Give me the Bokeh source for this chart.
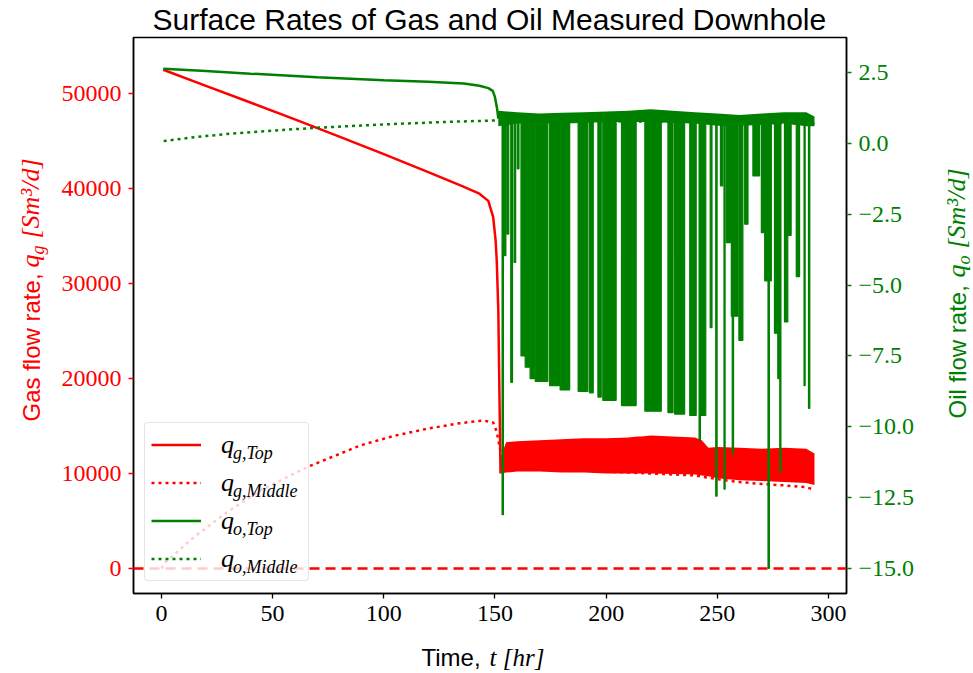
from bokeh.plotting import figure
from bokeh.layouts import column, row
from bokeh.models import (Range1d, LinearAxis, FixedTicker, Span, Legend, LegendItem,
                          Label, ColumnDataSource)
from bokeh.embed import file_html
from bokeh.resources import INLINE

RED = "#ff0000"
GREEN = "#008000"

# ---------------- data ----------------
# gas rate at the top, smooth decline before slugging starts [Sm3/d]
t_gas_top = [0.8, 20, 40, 60, 80, 100, 120, 135, 143, 147, 149.2, 150.3, 150.8, 151.5, 152.0, 152.5, 153.0]
gas_top = [52500, 50800, 49050, 47270, 45460, 43610, 41720, 40280, 39450, 38700, 36980,
           34500, 32400, 27200, 18500, 10000, 11500]

# gas rate at the top during slugging: upper / lower envelope of the oscillation
t_gas_band = [153.0, 155, 160, 170, 180, 190, 200, 210, 214, 216, 220, 230, 240, 243, 246,
              250, 260, 270, 280, 290, 293.7]
gas_band_hi = [12000, 13300, 13400, 13500, 13600, 13700, 13700, 13800, 13900, 13900, 14000,
               13900, 13800, 13500, 12700, 12800, 12700, 12600, 12700, 12600, 12100]
gas_band_lo = [10000, 10100, 10200, 10200, 10100, 10100, 10000, 10000, 10000, 10000, 10000,
               9950, 9900, 9800, 9700, 9500, 9300, 9200, 9100, 9000, 8800]

# gas rate in the middle of the well
t_gas_mid = [0, 1.8, 14.5, 29.5, 44.5, 65.4, 89.4, 104.3, 119.3, 134.3, 144.7, 149.2, 150.8,
             152.3, 154, 160, 180, 200, 220, 240, 250, 260, 270, 280, 290, 293.7]
gas_mid = [0, 660, 3290, 5930, 8210, 10660, 12950, 13950, 14700, 15300, 15580, 15370, 14400,
           12500, 11000, 10600, 10400, 10200, 10000, 9800, 9400, 9100, 8900, 8750, 8550, 8300]

# oil rate at the top before slugging
t_oil_top = [0.8, 20, 40, 70, 100, 120, 136, 143, 147, 149, 150, 151, 151.5]
oil_top = [2.63, 2.55, 2.46, 2.33, 2.23, 2.17, 2.11, 2.03, 1.95, 1.85, 1.63, 1.2, 0.87]

# oil rate at the top during slugging: plateau band
t_oil_band = [151.5, 160, 170, 180, 190, 200, 210, 220, 230, 240, 250, 260, 270, 280, 290, 293.7]
oil_band_hi = [1.15, 1.1, 1.05, 1.08, 1.1, 1.12, 1.15, 1.2, 1.15, 1.1, 1.05, 1.0, 1.05, 1.1, 1.1, 0.95]
oil_band_lo = [0.6, 0.7, 0.7, 0.7, 0.72, 0.75, 0.75, 0.75, 0.72, 0.7, 0.62, 0.62, 0.65, 0.7, 0.6, 0.6]

# oil rate at the top during slugging: bursts of drops (start, end, lowest value)
dip_start = [153.2, 154.3, 155.3, 157.1, 158.6, 160.0, 161.7, 163.6, 165.8, 168.1, 174.6, 179.3,
             187.4, 192.5, 196.3, 198.5, 206.9, 217.4, 227.8, 230.8, 233.1, 237.6, 241.8, 242.5,
             246.8, 249.3, 251.4, 253.0, 254.0, 256.3, 256.7, 259.7, 262.3, 266.0, 269.8, 271.3,
             272.8, 275.7, 277.2, 278.1, 280.2, 281.7, 285.5, 289.0, 291.0]
dip_end = [153.8, 154.9, 156.2, 157.9, 159.3, 160.8, 163.6, 165.6, 167.9, 173.8, 179.0, 183.6,
           191.8, 194.2, 197.8, 204.5, 213.5, 224.8, 230.1, 233.0, 235.3, 240.5, 242.4, 244.8,
           247.6, 249.9, 252.5, 253.5, 255.9, 259.3, 257.3, 261.5, 263.8, 269.0, 271.3, 274.3,
           273.4, 277.2, 278.0, 278.6, 281.7, 283.2, 287.0, 289.5, 291.6]
dip_depth = [-13.1, -3.96, -3.2, -8.43, -4.2, -0.9, -7.5, -7.9, -8.3, -8.4, -8.55, -8.7,
             -8.75, -8.8, -8.95, -9.07, -9.25, -9.45, -9.5, -9.55, -9.55, -9.6, -10.48, -9.6,
             -6.5, -12.45, -1.5, -12.2, -3.5, -6.1, -10.95, -6.95, -2.85, -1.15, -3.15, -4.85,
             -15.0, -6.7, -8.3, -11.6, -6.3, -3.25, -4.7, -8.55, -9.35]

# oil rate in the middle of the well
t_oil_mid = [1, 15, 31, 50, 70, 90, 106, 130, 150.8, 160, 200, 250, 293.7]
oil_mid = [0.08, 0.22, 0.34, 0.45, 0.55, 0.63, 0.69, 0.76, 0.81, 0.8, 0.78, 0.74, 0.7]

x_ticks = [0, 50, 100, 150, 200, 250, 300]
gas_ticks = [0, 10000, 20000, 30000, 40000, 50000]
oil_ticks = [2.5, 0.0, -2.5, -5.0, -7.5, -10.0, -12.5, -15.0]
oil_tick_text = ["2.5", "0.0", "\u22122.5", "\u22125.0", "\u22127.5", "\u221210.0",
                 "\u221212.5", "\u221215.0"]
legend_subs = ["g,Top", "g,Middle", "o,Top", "o,Middle"]

SERIF = "Liberation Serif"
SANS = "Liberation Sans"
TICK_SIZE = "24px"
ROT = 1.5707963
MID = 0.34  # distance from the alphabetic baseline to the middle of the text box, in em


def put(fig, text, bx, by, size, font, style="normal", color="black", rotated=False):
    """Place a text piece by its baseline start (bx, by), in the figure's screen units."""
    if rotated:
        ax, ay, ang = bx - MID * size, by, ROT
    else:
        ax, ay, ang = bx, by + MID * size, 0.0
    fig.add_layout(Label(x=ax, y=ay, x_units="screen", y_units="screen", text=text,
                         text_font=font, text_font_size=f"{size}px", text_font_style=style,
                         text_color=color, angle=ang, text_align="left",
                         text_baseline="middle"))


def strip(w, h):
    f = figure(width=w, height=h, output_backend="svg", toolbar_location=None,
               x_range=Range1d(0, w), y_range=Range1d(0, h), min_border=0,
               x_axis_type=None, y_axis_type=None, title=None)
    f.outline_line_color = None
    f.grid.visible = False
    f.background_fill_color = "white"
    f.border_fill_color = "white"
    return f


# ---------------- main plot ----------------
p = figure(width=859, height=602, output_backend="svg", toolbar_location=None, title=None,
           x_range=Range1d(-12.57, 308.1), y_range=Range1d(-2632, 55895),
           min_border_left=75, min_border_right=70, min_border_top=1, min_border_bottom=45)
p.extra_y_ranges = {"oil": Range1d(-15.882, 3.735)}
p.xgrid.visible = False
p.ygrid.visible = False
p.outline_line_color = "black"
p.outline_line_width = 1.5
p.background_fill_color = "white"
p.border_fill_color = "white"

xa = p.xaxis[0]
xa.ticker = FixedTicker(ticks=x_ticks)
ya = p.yaxis[0]
ya.ticker = FixedTicker(ticks=gas_ticks)
ya.formatter.use_scientific = False

oil_axis = LinearAxis(y_range_name="oil", ticker=FixedTicker(ticks=oil_ticks),
                      major_label_overrides=dict(zip(oil_ticks, oil_tick_text)))
p.add_layout(oil_axis, "right")

for ax, col in ((xa, "black"), (ya, RED), (oil_axis, GREEN)):
    ax.axis_line_color = "black"
    ax.axis_line_width = 1.5
    ax.major_tick_line_color = col
    ax.major_tick_line_width = 1.3
    ax.major_tick_out = 5
    ax.major_tick_in = 0
    ax.minor_tick_line_color = None
    ax.major_label_text_color = col
    ax.major_label_text_font = SERIF
    ax.major_label_text_font_size = TICK_SIZE
    ax.major_label_standoff = 7
    ax.axis_label = None

# gas curves (left axis)
p.varea(x=t_gas_band, y1=gas_band_lo, y2=gas_band_hi, fill_color=RED)
r_gas_top = p.line(t_gas_top, gas_top, line_color=RED, line_width=2.5)
r_gas_mid = p.line(t_gas_mid, gas_mid, line_color=RED, line_width=2.5,
                   line_dash="3 4", line_cap="butt")

zero_line = Span(location=0, dimension="width", line_color=RED, line_width=2.5,
                 line_dash="10 6")
p.add_layout(zero_line)

# oil curves (right axis)
p.varea(x=t_oil_band, y1=oil_band_lo, y2=oil_band_hi, fill_color=GREEN, y_range_name="oil")
dips = ColumnDataSource(dict(left=dip_start, right=dip_end, bottom=dip_depth))
p.quad(left="left", right="right", bottom="bottom", top=0.85, source=dips,
       fill_color=GREEN, line_color=GREEN, line_width=1.2, y_range_name="oil")
r_oil_top = p.line(t_oil_top, oil_top, line_color=GREEN, line_width=2.5, y_range_name="oil")
r_oil_mid = p.line(t_oil_mid, oil_mid, line_color=GREEN, line_width=2.5,
                   line_dash="3 4", line_cap="butt", y_range_name="oil")

# legend: swatches and the main symbol "q"
legend_main = Legend(items=[LegendItem(label="q", renderers=[r]) for r in
                            (r_gas_top, r_gas_mid, r_oil_top, r_oil_mid)],
                     location=(11, 12), margin=0, padding=6, spacing=7,
                     glyph_width=50, glyph_height=31, label_height=31, label_width=81,
                     label_standoff=20, label_text_font=SERIF, label_text_font_style="italic",
                     label_text_font_size="26px", label_text_color="black",
                     border_line_color="#cccccc", border_line_width=1.5,
                     background_fill_color="white", background_fill_alpha=0.8)
if "border_radius" in Legend.properties():
    legend_main.border_radius = 4
p.add_layout(legend_main)

# second, see-through legend carrying the subscripts
blank = p.line(x=[], y=[], line_alpha=0)
legend_sub = Legend(items=[LegendItem(label=s, renderers=[blank]) for s in legend_subs],
                    location=(99, 10), margin=0, padding=0, spacing=7,
                    glyph_width=1, glyph_height=31, label_height=31, label_width=10,
                    label_standoff=0, label_text_font=SERIF, label_text_font_style="italic",
                    label_text_font_size="18px", label_text_color="black",
                    border_line_color=None, background_fill_alpha=0)
p.add_layout(legend_sub)

# ---------------- title and axis labels ----------------
top = strip(973, 36)
put(top, "Surface Rates of Gas and Oil Measured Downhole", 152, 6.8, 30, SANS)

bottom = strip(973, 35)
put(bottom, "Time, ", 421, 8, 24, SANS)
put(bottom, "t [hr]", 489, 8, 25, SERIF, "italic")

left = strip(58, 602)
put(left, "Gas flow rate, ", 39, 172, 24, SANS, color=RED, rotated=True)
put(left, "q", 39, 326, 26, SERIF, "italic", RED, True)
put(left, "g", 44, 339, 18, SERIF, "italic", RED, True)
put(left, "[Sm\u00b3/d]", 39, 355, 26, SERIF, "italic", RED, True)

right = strip(56, 602)
put(right, "Oil flow rate, ", 48, 175, 24, SANS, color=GREEN, rotated=True)
put(right, "q", 48, 316, 26, SERIF, "italic", GREEN, True)
put(right, "o", 53, 329, 18, SERIF, "italic", GREEN, True)
put(right, "[Sm\u00b3/d]", 48, 345, 26, SERIF, "italic", GREEN, True)

layout = column(top, row(left, p, right, spacing=0), bottom, spacing=0)
open("out.html", "w").write(file_html(layout, INLINE))
